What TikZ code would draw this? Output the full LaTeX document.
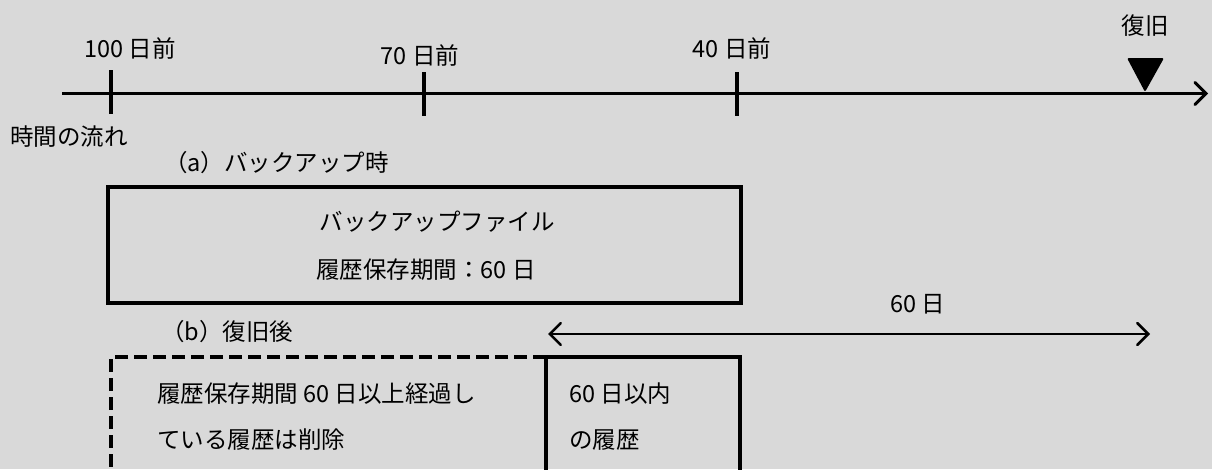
\documentclass[tikz,border=0pt]{standalone}
\usepackage{fontspec}
\setmainfont{Noto Sans CJK JP}
\usetikzlibrary{arrows.meta}
\definecolor{bg}{HTML}{D9D9D9}
\begin{document}
\begin{tikzpicture}[x=1pt,y=-1pt,
  lbl/.style={inner sep=0pt,font=\fontsize{23.5}{28}\selectfont},
  tick/.style={line width=4.5pt},
  boxline/.style={line width=4pt},
  tip/.style={-{Straight Barb[length=11pt,width=22pt,line cap=round]}},
  dtip/.style={{Straight Barb[length=11pt,width=22pt,line cap=round]}-{Straight Barb[length=11pt,width=22pt,line cap=round]}}]
\fill[bg] (0,0) rectangle (1212,469);
\useasboundingbox (0,0) rectangle (1212,469);
% timeline
\coordinate (tl0) at (62,93.5);
\coordinate (tl1) at (1208,93.5);
\draw[line width=3pt,tip] (tl0) -- (tl1);
\draw[tick] (111,70) -- (111,114);
\draw[tick] (424,72) -- (424,116);
\draw[tick] (737,72) -- (737,116);
\node[lbl] (t100) at (130,48) {100 日前};
\node[lbl] (t70) at (420,55) {70 日前};
\node[lbl] (t40) at (732,48) {40 日前};
\node[lbl] (fk) at (1145,26) {復旧};
\fill[rounded corners=2pt] (1127,58) -- (1164,58) -- (1145,92) -- cycle;
\node[lbl] (flow) at (69,137) {時間の流れ};
% (a)
\node[lbl,anchor=west] (la) at (164,163) {（a）バックアップ時};
\draw[boxline] (108,187) rectangle (741,303);
\node[lbl] (bf) at (437,222) {バックアップファイル};
\node[lbl] (kk) at (426,270) {履歴保存期間：60 日};
% (b)
\node[lbl,anchor=west] (lb) at (161,332) {（b）復旧後};
\node[lbl] (d60) at (918,304) {60 日};
\coordinate (al) at (548,334);
\coordinate (ar) at (1150,334);
\draw[line width=2.5pt,dtip] (al) -- (ar);
\draw[boxline,dash pattern=on 13pt off 6pt] (546,357) -- (111,357) -- (111,480);
\draw[boxline] (546,480) -- (546,357) -- (740,357) -- (740,480);
\node[lbl,anchor=west] (o1) at (157,394) {履歴保存期間 60 日以上経過し};
\node[lbl,anchor=west] (o2) at (157,440) {ている履歴は削除};
\node[lbl,anchor=west] (i1) at (569,394) {60 日以内};
\node[lbl,anchor=west] (i2) at (569,440) {の履歴};
\end{tikzpicture}
\end{document}
